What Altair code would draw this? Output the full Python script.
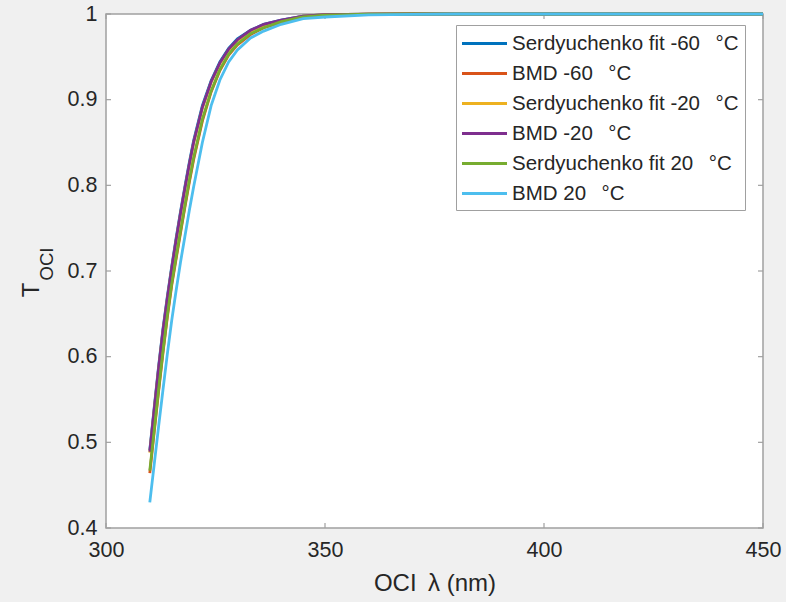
import altair as alt
import pandas as pd

# ---------------- data ----------------
wavelength = [310, 311, 312, 313, 314, 315, 316, 317, 318, 319, 320, 322, 324, 326,
              328, 330, 333, 336, 340, 345, 350, 360, 370, 380, 400, 425, 450]

GAP = "\u00a0\u00a0\u2009"
series_names = [
    "Serdyuchenko fit -60" + GAP + "°C",
    "BMD -60" + GAP + "°C",
    "Serdyuchenko fit -20" + GAP + "°C",
    "BMD -20" + GAP + "°C",
    "Serdyuchenko fit 20" + GAP + "°C",
    "BMD 20" + GAP + "°C",
]
series_colors = ["#0072BD", "#D95319", "#EDB120", "#7E2F8E", "#77AC30", "#4DBEEE"]

serd_m60 = [0.491, 0.540, 0.588, 0.632, 0.670, 0.705, 0.738, 0.769, 0.798, 0.826, 0.852,
            0.893, 0.922, 0.944, 0.960, 0.971, 0.981, 0.988, 0.993, 0.9976, 0.9993,
            0.9998, 1.0, 1.0, 1.0, 1.0, 1.0]
bmd_m60 = [0.464, 0.512, 0.559, 0.604, 0.646, 0.683, 0.714, 0.744, 0.774, 0.803, 0.830,
           0.875, 0.909, 0.934, 0.952, 0.964, 0.976, 0.984, 0.990, 0.9962, 0.9987,
           0.9997, 1.0, 1.0, 1.0, 1.0, 1.0]
serd_m20 = [0.488, 0.537, 0.585, 0.629, 0.667, 0.702, 0.735, 0.766, 0.795, 0.823, 0.849,
            0.890, 0.920, 0.942, 0.958, 0.969, 0.980, 0.987, 0.992, 0.9974, 0.9991,
            0.9998, 1.0, 1.0, 1.0, 1.0, 1.0]
bmd_m20 = [0.489, 0.538, 0.586, 0.630, 0.668, 0.703, 0.736, 0.767, 0.796, 0.824, 0.850,
           0.891, 0.921, 0.943, 0.959, 0.970, 0.981, 0.988, 0.993, 0.9975, 0.9992,
           0.9998, 1.0, 1.0, 1.0, 1.0, 1.0]
serd_p20 = [0.467, 0.514, 0.561, 0.606, 0.648, 0.685, 0.716, 0.746, 0.776, 0.805, 0.832,
            0.877, 0.910, 0.935, 0.953, 0.965, 0.977, 0.984, 0.991, 0.9965, 0.9988,
            0.9997, 1.0, 1.0, 1.0, 1.0, 1.0]
bmd_p20 = [0.430, 0.474, 0.518, 0.561, 0.603, 0.642, 0.677, 0.710, 0.740, 0.770, 0.798,
           0.850, 0.893, 0.923, 0.944, 0.958, 0.972, 0.980, 0.988, 0.9945, 0.9965,
           0.999, 0.9995, 1.0, 1.0, 1.0, 1.0]

series_values = [serd_m60, bmd_m60, serd_m20, bmd_m20, serd_p20, bmd_p20]

x_ticks = [300, 350, 400, 450]
y_ticks = [0.4, 0.5, 0.6, 0.7, 0.8, 0.9, 1.0]

# ---------------- tables ----------------
rows = []
for order, (name, vals) in enumerate(zip(series_names, series_values)):
    for wl, v in zip(wavelength, vals):
        rows.append({"series": name, "order": order, "wl": wl, "T": v})
df = pd.DataFrame(rows)
xt = pd.DataFrame({"v": x_ticks})
yt = pd.DataFrame({"v": y_ticks})

W, H = 657, 514
FONT = "Liberation Sans"
FRAME = "#a0a0a0"
TXT = "#262626"
NB = "\u00a0"

xscale = alt.Scale(domain=[300, 450], nice=False, zero=False)
yscale = alt.Scale(domain=[0.4, 1.0], nice=False, zero=False)

lines = alt.Chart(df).mark_line(strokeWidth=2.8).encode(
    x=alt.X("wl:Q", scale=xscale,
            axis=alt.Axis(title="OCI" + NB + "\u2009λ (nm)", values=x_ticks, domain=False,
                          ticks=False, grid=False, labelPadding=11, titlePadding=11,
                          labelFontSize=21.5, titleFontSize=24, labelColor=TXT,
                          titleColor=TXT, labelFont=FONT, titleFont=FONT,
                          titleFontWeight="normal", labelFlush=False,
                          labelOverlap=False)),
    y=alt.Y("T:Q", scale=yscale,
            axis=alt.Axis(title=None, values=y_ticks, domain=False, ticks=False,
                          grid=False, labelPadding=9, labelFontSize=21.5,
                          labelColor=TXT, labelFont=FONT, labelFlush=False,
                          labelOverlap=False,
                          labelExpr="datum.value == 1 ? '1' : format(datum.value, '.1f')")),
    color=alt.Color("series:N",
                    scale=alt.Scale(domain=series_names, range=series_colors),
                    sort=series_names,
                    legend=alt.Legend(title=None, orient="none", legendX=350, legendY=11,
                                      symbolType="M-1.136,0H2.955", symbolSize=484,
                                      symbolStrokeWidth=3, labelFontSize=20.5,
                                      labelFont=FONT, labelColor=TXT, rowPadding=7,
                                      padding=6, labelOffset=25,
                                      strokeColor=FRAME, fillColor="white",
                                      cornerRadius=0, labelLimit=400)),
    order=alt.Order("order:Q"),
)

tick_len = 5
bottom_ticks = alt.Chart(xt).mark_rule(color=FRAME, strokeWidth=1.2).encode(
    x=alt.X("v:Q", scale=xscale), y=alt.value(H), y2=alt.value(H - tick_len))
top_ticks = alt.Chart(xt).mark_rule(color=FRAME, strokeWidth=1.2).encode(
    x=alt.X("v:Q", scale=xscale), y=alt.value(0), y2=alt.value(tick_len))
left_ticks = alt.Chart(yt).mark_rule(color=FRAME, strokeWidth=1.2).encode(
    y=alt.Y("v:Q", scale=yscale), x=alt.value(0), x2=alt.value(tick_len))
right_ticks = alt.Chart(yt).mark_rule(color=FRAME, strokeWidth=1.2).encode(
    y=alt.Y("v:Q", scale=yscale), x=alt.value(W), x2=alt.value(W - tick_len))

ytitle_T = alt.Chart(pd.DataFrame({"t": ["T"]})).mark_text(
    angle=270, fontSize=24, font=FONT, color=TXT, align="center", baseline="middle"
).encode(text="t:N", x=alt.value(-74), y=alt.value(276))
ytitle_sub = alt.Chart(pd.DataFrame({"t": ["OCI"]})).mark_text(
    angle=270, fontSize=18.5, font=FONT, color=TXT, align="center", baseline="middle"
).encode(text="t:N", x=alt.value(-59.5), y=alt.value(250))

chart = alt.layer(
    bottom_ticks, top_ticks, left_ticks, right_ticks, lines, ytitle_T, ytitle_sub
).resolve_scale(x="shared", y="shared").properties(
    width=W, height=H,
    autosize=alt.AutoSizeParams(type="none"),
    padding={"left": 106, "top": 14, "right": 23, "bottom": 74},
    background="#f0f0f0",
).configure_view(fill="white", stroke=FRAME, strokeWidth=1.5)

chart.save("out.html", embed_options={"renderer": "svg", "actions": False})
